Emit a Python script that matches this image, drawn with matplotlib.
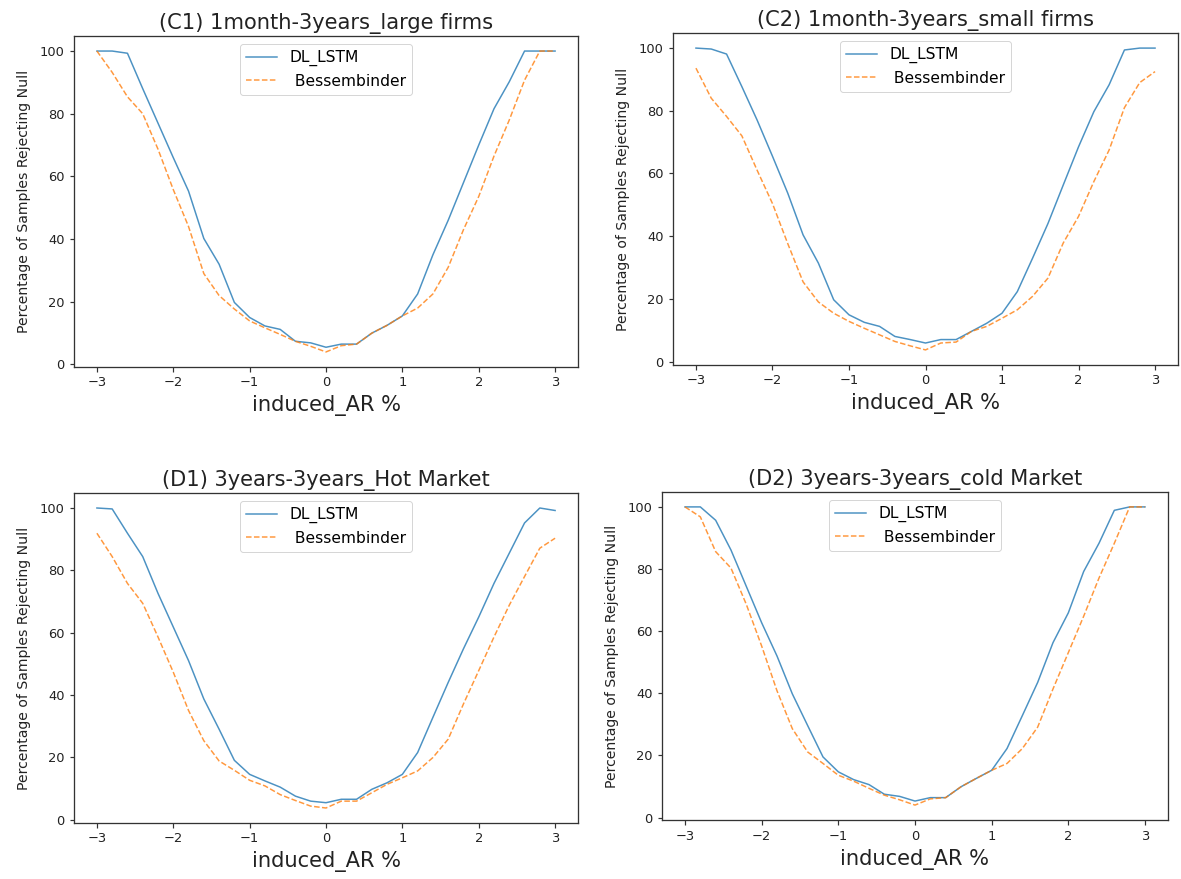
import numpy as np
import matplotlib
matplotlib.use("Agg")
import matplotlib.pyplot as plt

x_vals = np.round(np.arange(-3.0, 3.01, 0.2), 1)

titles = ["(C1) 1month-3years_large firms", "(C2) 1month-3years_small firms",
          "(D1) 3years-3years_Hot Market", "(D2) 3years-3years_cold Market"]

c1_lstm = [100, 100, 99.3, 88, 77, 66, 55.3, 40.2, 32, 19.8, 15, 12.3, 11.2, 7.4, 6.9,
           5.5, 6.5, 6.5, 10, 12.5, 15.5, 22.5, 35, 46, 58, 70, 81.6, 90.2, 100, 100, 100]
c1_bess = [100, 93.2, 85.4, 80, 68.7, 55.8, 44, 29, 22, 17.7, 13.9, 11.7, 9.6, 7.4, 5.8,
           4.0, 6, 6.5, 10, 12.5, 15.5, 18, 22.5, 31, 43, 53.6, 66.5, 78, 90.7, 100, 100]

c2_lstm = [100, 99.7, 98.1, 87.7, 77, 65.5, 53.7, 40.4, 31.4, 19.7, 14.9, 12.5, 11.2, 8, 7,
           5.9, 7, 7, 9.6, 12.2, 15.4, 22.3, 33, 44, 56.3, 68.5, 79.7, 88.3, 99.4, 100, 100]
c2_bess = [93.6, 84, 78.2, 72, 61, 50.4, 37.6, 25.4, 19, 15.4, 12.8, 10.6, 8.5, 6.4, 5,
           3.7, 5.9, 6.2, 9.6, 11.2, 13.8, 16.5, 20.8, 26.6, 37.8, 46.3, 57.4, 67.5, 81, 89, 92.5]

d1_lstm = [100, 99.7, 91.9, 84.4, 72.6, 61.8, 51, 38.7, 29, 19, 14.5, 12.4, 10.4, 7.5, 5.9,
           5.4, 6.5, 6.5, 9.7, 11.8, 14.5, 21.5, 32.8, 44, 54.8, 65, 75.8, 85.5, 95.2, 100, 99.2]
d1_bess = [91.9, 84.4, 75.8, 69.4, 58.6, 47.3, 35, 25.3, 18.8, 15.8, 12.6, 10.8, 8, 6.1, 4.3,
           3.7, 5.9, 5.9, 8.6, 11.3, 13.4, 15.6, 19.9, 25.8, 37.1, 47.8, 58.6, 68.8, 78, 87.1, 90.3]

d2_lstm = [100, 100, 95.7, 86.1, 74.4, 62.7, 52, 39.8, 29.6, 19.5, 14.7, 12.2, 10.6, 7.5, 6.8,
           5.3, 6.4, 6.4, 9.9, 12.6, 15.2, 22.2, 32.8, 43.5, 56.3, 65.9, 79.2, 88.3, 98.9, 100, 100]
d2_bess = [100, 96.8, 85.6, 80.3, 68.6, 55.2, 40.8, 28.6, 21.1, 17.4, 13.6, 11.7, 9.4, 7.2, 5.7,
           4.0, 6, 6.4, 9.9, 12.6, 15.2, 17.4, 22.2, 29.1, 41.4, 53.1, 64.8, 77.1, 88.3, 100, 100]

series = [(c1_lstm, c1_bess), (c2_lstm, c2_bess), (d1_lstm, d1_bess), (d2_lstm, d2_bess)]

W, H = 1181, 879
DPI = 72
fig = plt.figure(figsize=(W / DPI, H / DPI), dpi=DPI)

# axes boxes in pixels: left, top, right, bottom
boxes = [(74, 36, 578, 367), (673, 33, 1178, 365), (74, 493, 578, 823), (662, 492, 1168, 820)]

for (l, t, r, b), title, (lstm, bess) in zip(boxes, titles, series):
    ax = fig.add_axes([l / W, 1 - b / H, (r - l) / W, (b - t) / H])
    ax.plot(x_vals, lstm, color="#1f77b4", lw=1.5, alpha=0.8, label="DL_LSTM")
    ax.plot(x_vals, bess, color="#ff7f0e", lw=1.5, ls="--", alpha=0.8, label=" Bessembinder")
    ax.set_title(title, fontsize=21, pad=7, color="#222222")
    ax.set_xlabel("induced_AR %", fontsize=21, color="#222222", labelpad=6)
    ax.set_ylabel("Percentage of Samples Rejecting Null", fontsize=14, color="#222222", labelpad=9)
    ax.set_xticks([-3, -2, -1, 0, 1, 2, 3])
    ax.set_yticks([0, 20, 40, 60, 80, 100])
    ax.tick_params(labelsize=13, length=4.5, width=1.2, pad=5, colors="#333333", labelcolor="#222222")
    for sp in ax.spines.values():
        sp.set_linewidth(1.3)
        sp.set_color("#333333")
    ax.legend(loc="upper center", fontsize=15.5, borderaxespad=0.5)

fig.savefig("out.png", dpi=DPI)
